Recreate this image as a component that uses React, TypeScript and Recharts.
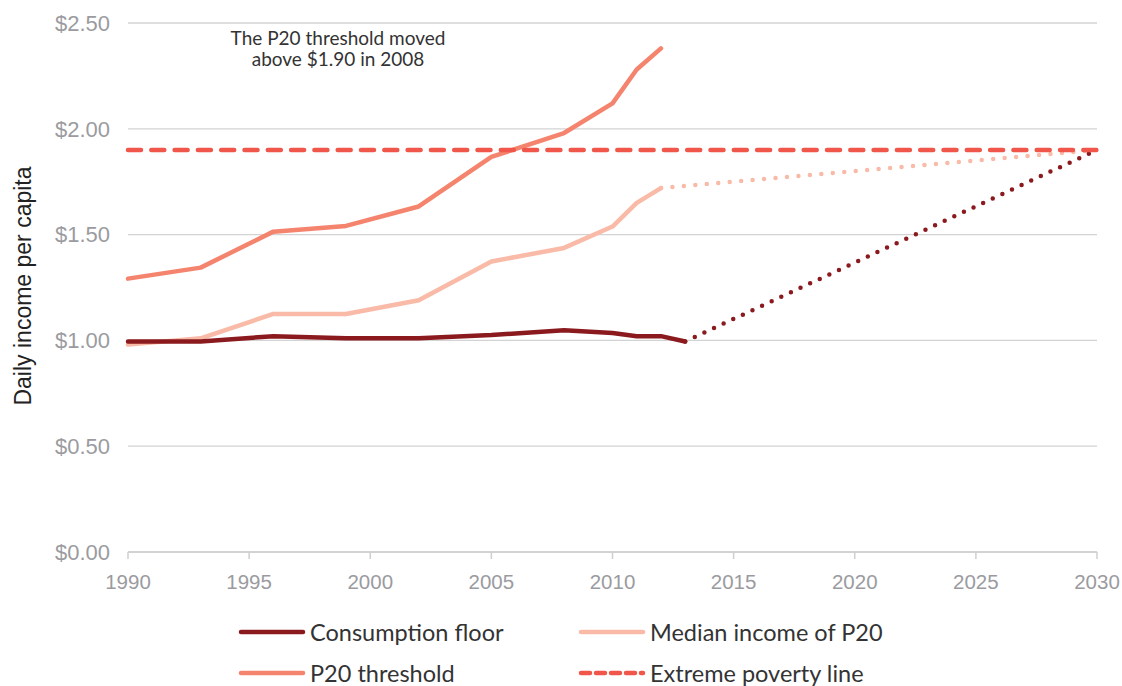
import React from 'react';
import { LineChart, Line, XAxis, YAxis, CartesianGrid, Legend, Customized } from 'recharts';

const floorYears = [1990, 1993, 1996, 1999, 2002, 2005, 2008, 2010, 2011, 2012, 2013];
const floorValues = [0.995, 0.995, 1.02, 1.01, 1.01, 1.025, 1.048, 1.035, 1.02, 1.02, 0.995];
const floorProjYears = [2013, 2030];
const floorProjValues = [0.995, 1.9];

const p20Years = [1990, 1993, 1996, 1999, 2002, 2005, 2008, 2010, 2011, 2012];
const medianValues = [0.98, 1.01, 1.125, 1.125, 1.19, 1.373, 1.437, 1.538, 1.65, 1.72];
const thresholdValues = [1.292, 1.344, 1.514, 1.541, 1.633, 1.867, 1.98, 2.12, 2.28, 2.38];
const medianProjYears = [2012, 2030];
const medianProjValues = [1.72, 1.9];

const povertyYears = [1990, 2030];
const povertyValues = [1.9, 1.9];

const xTicks = [1990, 1995, 2000, 2005, 2010, 2015, 2020, 2025, 2030];
const yTicks = [0, 0.5, 1, 1.5, 2, 2.5];

const legendLabels = ['Consumption floor', 'Median income of P20', 'P20 threshold', 'Extreme poverty line'];
const annotationLines = ['The P20 threshold moved', 'above $1.90 in 2008'];
const yAxisTitle = 'Daily income per capita';

const C_FLOOR = '#8B1A1E';
const C_MEDIAN = '#F9BAA7';
const C_THRESH = '#F4846D';
const C_POVERTY = '#F0564A';

const FONT = 'Lato, "Open Sans", sans-serif';
const AXIS_FONT = '"Liberation Sans", Arial, sans-serif';

const toSeries = (xs: number[], ys: number[]) => xs.map((x, i) => ({ year: x, value: ys[i] }));

const floorData = toSeries(floorYears, floorValues);
const floorProjData = toSeries(floorProjYears, floorProjValues);
const medianData = toSeries(p20Years, medianValues);
const thresholdData = toSeries(p20Years, thresholdValues);
const medianProjData = toSeries(medianProjYears, medianProjValues);
const povertyData = toSeries(povertyYears, povertyValues);

const legendItems = [
  { label: legendLabels[0], color: C_FLOOR, dash: undefined as string | undefined },
  { label: legendLabels[1], color: C_MEDIAN, dash: undefined },
  { label: legendLabels[2], color: C_THRESH, dash: undefined },
  { label: legendLabels[3], color: C_POVERTY, dash: '9 6' },
];

const LegendContent = () => {
  const colX = [238, 578];
  const rowY = [632, 673];
  return (
    <div style={{ position: 'relative', width: 1122, height: 70 }}>
      {legendItems.map((it, i) => {
        const col = i % 2;
        const row = Math.floor(i / 2);
        return (
          <div
            key={it.label}
            style={{
              position: 'absolute',
              left: colX[col],
              top: rowY[row] - 612 - 15,
              height: 30,
              display: 'flex',
              alignItems: 'center',
              fontFamily: FONT,
              fontSize: 23.5,
              color: '#333',
              whiteSpace: 'nowrap',
            }}
          >
            <svg width={68} height={8} style={{ marginRight: 4 }}>
              <line
                x1={3}
                y1={4}
                x2={65}
                y2={4}
                stroke={it.color}
                strokeWidth={4.5}
                strokeLinecap="round"
                strokeDasharray={it.dash}
              />
            </svg>
            <span>{it.label}</span>
          </div>
        );
      })}
    </div>
  );
};

const Overlay = () => (
  <g>
    <text x={338} y={45} textAnchor="middle" fontSize={19} fill="#333" fontFamily={FONT}>
      {annotationLines[0]}
    </text>
    <text x={338} y={66} textAnchor="middle" fontSize={19} fill="#333" fontFamily={FONT}>
      {annotationLines[1]}
    </text>
    <text
      x={23}
      y={286}
      transform="rotate(-90 23 286)"
      textAnchor="middle"
      dominantBaseline="central"
      fontSize={23}
      fill="#222"
      fontFamily={AXIS_FONT}
    >
      {yAxisTitle}
    </text>
  </g>
);

export default function App() {
  return (
    <div style={{ position: 'absolute', left: 0, top: 0, width: 1122, height: 686, background: '#fff' }}>
      <LineChart
        width={1122}
        height={686}
        margin={{ top: 23, right: 25, bottom: 94, left: 0 }}
        style={{ fontFamily: AXIS_FONT }}
      >
        <CartesianGrid horizontal vertical={false} stroke="#D3D3D3" strokeWidth={1.3} />
        <XAxis
          dataKey="year"
          type="number"
          domain={[1990, 2030]}
          ticks={xTicks}
          allowDuplicatedCategory={false}
          height={40}
          tickSize={7}
          tickMargin={15}
          axisLine={{ stroke: '#CFCFCF', strokeWidth: 1.5 }}
          tickLine={{ stroke: '#CFCFCF', strokeWidth: 1.5 }}
          tick={{ fill: '#9B9B9F', fontSize: 20.5, fontFamily: AXIS_FONT }}
        />
        <YAxis
          type="number"
          domain={[0, 2.5]}
          ticks={yTicks}
          width={128}
          axisLine={false}
          tickLine={false}
          tickMargin={12}
          tick={{ fill: '#9B9B9F', fontSize: 22, fontFamily: AXIS_FONT }}
          tickFormatter={(v: number) => `$${v.toFixed(2)}`}
        />
        <Line
          data={thresholdData}
          dataKey="value"
          stroke={C_THRESH}
          strokeWidth={4.5}
          strokeLinecap="round"
          strokeLinejoin="round"
          dot={false}
          activeDot={false}
          isAnimationActive={false}
        />
        <Line
          data={medianData}
          dataKey="value"
          stroke={C_MEDIAN}
          strokeWidth={4.5}
          strokeLinecap="round"
          strokeLinejoin="round"
          dot={false}
          activeDot={false}
          isAnimationActive={false}
        />
        <Line
          data={medianProjData}
          dataKey="value"
          stroke={C_MEDIAN}
          strokeWidth={4.5}
          strokeLinecap="round"
          strokeDasharray="0 11.5"
          dot={false}
          activeDot={false}
          isAnimationActive={false}
        />
        <Line
          data={floorData}
          dataKey="value"
          stroke={C_FLOOR}
          strokeWidth={4.5}
          strokeLinecap="round"
          strokeLinejoin="round"
          dot={false}
          activeDot={false}
          isAnimationActive={false}
        />
        <Line
          data={floorProjData}
          dataKey="value"
          stroke={C_FLOOR}
          strokeWidth={4.5}
          strokeLinecap="round"
          strokeDasharray="0 10.6"
          dot={false}
          activeDot={false}
          isAnimationActive={false}
        />
        <Line
          data={povertyData}
          dataKey="value"
          stroke={C_POVERTY}
          strokeWidth={4.5}
          strokeLinecap="round"
          strokeDasharray="13 10.3"
          dot={false}
          activeDot={false}
          isAnimationActive={false}
        />
        <Customized component={Overlay} />
        <Legend
          layout="horizontal"
          verticalAlign="middle"
          align="center"
          wrapperStyle={{ top: 612, left: 0, width: 1122, height: 70 }}
          content={LegendContent}
        />
      </LineChart>
    </div>
  );
}
